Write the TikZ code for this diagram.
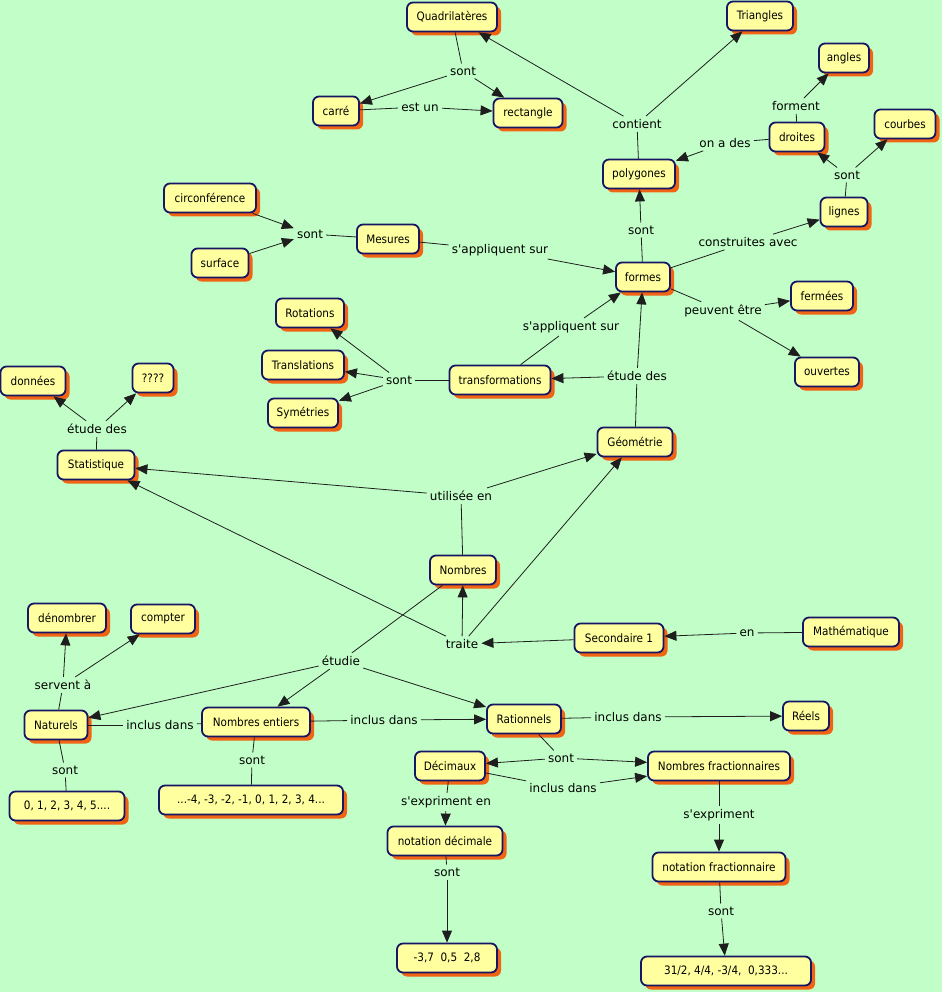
\documentclass[tikz,border=0pt]{standalone}
\usepackage{fontspec}
\usetikzlibrary{arrows.meta,shadows}
\newfontfamily\cmapfont{DejaVu Sans}
\newfontfamily\cmapnodefont{DejaVu Sans Condensed}
\definecolor{bg}{RGB}{194,255,200}
\definecolor{cfill}{RGB}{255,255,160}
\definecolor{cborder}{RGB}{22,22,100}
\definecolor{cshadow}{RGB}{240,100,20}
\definecolor{lnk}{RGB}{30,30,30}
\begin{document}
\begin{tikzpicture}[x=1pt,y=-1pt,
  concept/.style={draw=cborder, line width=1.8pt, rounded corners=6pt, fill=cfill,
    font=\cmapnodefont\fontsize{11.6}{13}\selectfont, inner xsep=6pt, inner ysep=0pt,
    minimum height=29pt,
    drop shadow={shadow xshift=4pt, shadow yshift=-4pt, fill=cshadow, opacity=1}},
  link/.style={font=\cmapfont\fontsize{12}{14}\selectfont, inner sep=3pt, text=black},
  con/.style={draw=lnk, line width=0.8pt},
  arr/.style={con, -{Triangle[length=12pt,width=10pt]}}
]
\useasboundingbox (0,0) rectangle (942,992);
\fill[bg] (0,0) rectangle (942,992);

% concepts
\node[concept, minimum width=90pt] (quad) at (452,17) {Quadrilatères};
\node[concept, minimum width=66pt] (tri) at (760,16) {Triangles};
\node[concept, minimum width=50pt] (angl) at (844,58) {angles};
\node[concept, minimum width=61pt] (courb) at (905,124) {courbes};
\node[concept, minimum width=46pt] (carre) at (336,111) {carré};
\node[concept, minimum width=69pt] (rect) at (528,113) {rectangle};
\node[concept, minimum width=55pt] (droi) at (797,137) {droites};
\node[concept, minimum width=72pt] (poly) at (639,174) {polygones};
\node[concept, minimum width=47pt] (lign) at (844,212) {lignes};
\node[concept, minimum width=92pt] (circ) at (210,198) {circonférence};
\node[concept, minimum width=62pt] (mes) at (388,239) {Mesures};
\node[concept, minimum width=57pt] (surf) at (220,263) {surface};
\node[concept, minimum width=54pt] (form) at (643,277) {formes};
\node[concept, minimum width=62pt] (ferm) at (822,296) {fermées};
\node[concept, minimum width=68pt] (rot) at (310,313) {Rotations};
\node[concept, minimum width=82pt] (transl) at (303,365) {Translations};
\node[concept, minimum width=70pt] (sym) at (303,413) {Symétries};
\node[concept, minimum width=101pt] (transf) at (500,380) {transformations};
\node[concept, minimum width=64pt] (ouv) at (827,372) {ouvertes};
\node[concept, minimum width=65pt] (donn) at (33,381) {données};
\node[concept, minimum width=41pt] (quest) at (153,378) {????};
\node[concept, minimum width=77pt] (stat) at (96,465) {Statistique};
\node[concept, minimum width=75pt] (geo) at (635,442) {Géométrie};
\node[concept, minimum width=66pt] (nomb) at (463,570) {Nombres};
\node[concept, minimum width=78pt] (denom) at (67,618) {dénombrer};
\node[concept, minimum width=64pt] (compt) at (163,619) {compter};
\node[concept, minimum width=89pt] (sec) at (619,638) {Secondaire 1};
\node[concept, minimum width=96pt] (math) at (851,632) {Mathématique};
\node[concept, minimum width=63pt] (nat) at (56,725) {Naturels};
\node[concept, minimum width=108pt] (ent) at (256,722) {Nombres entiers};
\node[concept, minimum width=74pt] (rat) at (524,719) {Rationnels};
\node[concept, minimum width=46pt] (reel) at (806,716) {Réels};
\node[concept, minimum width=70pt] (dec) at (450,766) {Décimaux};
\node[concept, minimum width=142pt] (nfrac) at (719,766) {Nombres fractionnaires};
\node[concept, minimum width=115pt] (exnat) at (67,806) {0, 1, 2, 3, 4, 5....};
\node[concept, minimum width=184pt] (exent) at (251,800) {...-4, -3, -2, -1, 0, 1, 2, 3, 4...};
\node[concept, minimum width=115pt] (ndec) at (445,841) {notation décimale};
\node[concept, minimum width=133pt] (nfr) at (719,867) {notation fractionnaire};
\node[concept, minimum width=100pt] (exdec) at (447,958) {-3,7~~0,5~~2,8\hspace{10pt}};
\node[concept, minimum width=170pt] (exfr) at (726,971) {31/2, 4/4, -3/4,~~0,333...\hspace{14pt}};

% linking phrases
\node[link] (l1) at (463,71) {sont};
\node[link] (l2) at (420,107) {est un};
\node[link] (l3) at (637,124) {contient};
\node[link] (l4) at (796,106) {forment};
\node[link] (l5) at (725,143) {on a des};
\node[link] (l6) at (847,175) {sont};
\node[link] (l7) at (641,230) {sont};
\node[link] (l8) at (748,242) {construites avec};
\node[link] (l9) at (310,234) {sont};
\node[link] (l10) at (500,250) {s'appliquent sur};
\node[link] (l11) at (723,311) {peuvent être};
\node[link] (l12) at (571,327) {s'appliquent sur};
\node[link] (l13) at (637,376) {étude des};
\node[link] (l14) at (399,380) {sont};
\node[link] (l15) at (97,429) {étude des};
\node[link] (l16) at (461,496) {utilisée en};
\node[link] (l17) at (462,644) {traite};
\node[link] (l18) at (747,633) {en};
\node[link] (l19) at (341,661) {étudie};
\node[link] (l20) at (63,685) {servent à};
\node[link] (l21) at (160,725) {inclus dans};
\node[link] (l22) at (384,720) {inclus dans};
\node[link] (l23) at (628,717) {inclus dans};
\node[link] (l24) at (65,770) {sont};
\node[link] (l25) at (252,760) {sont};
\node[link] (l26) at (561,758) {sont};
\node[link] (l27) at (563,788) {inclus dans};
\node[link] (l28) at (446,802) {s'expriment en};
\node[link] (l29) at (719,815) {s'expriment};
\node[link] (l30) at (447,872) {sont};
\node[link] (l31) at (721,911) {sont};

% connectors
\draw[con] (quad) -- (l1); \draw[arr] (l1) -- (carre); \draw[arr] (l1) -- (rect);
\draw[con] (carre) -- (l2); \draw[arr] (l2) -- (rect);
\draw[con] (poly) -- (l3); \draw[arr] (l3) -- (quad); \draw[arr] (l3) -- (tri);
\draw[con] (droi) -- (l4); \draw[arr] (l4) -- (angl);
\draw[con] (droi) -- (l5); \draw[arr] (l5) -- (poly);
\draw[con] (lign) -- (l6); \draw[arr] (l6) -- (droi); \draw[arr] (l6) -- (courb);
\draw[con] (form) -- (l7); \draw[arr] (l7) -- (poly);
\draw[con] (form) -- (l8); \draw[arr] (l8) -- (lign);
\draw[con] (mes) -- (l9); \draw[arr] (circ) -- (l9); \draw[arr] (surf) -- (l9);
\draw[con] (mes) -- (l10); \draw[arr] (l10) -- (form);
\draw[con] (form) -- (l11); \draw[arr] (l11) -- (ferm); \draw[arr] (l11) -- (ouv);
\draw[con] (transf) -- (l12); \draw[arr] (l12) -- (form);
\draw[con] (geo) -- (l13); \draw[arr] (l13) -- (form); \draw[arr] (l13) -- (transf);
\draw[con] (transf) -- (l14); \draw[arr] (l14) -- (rot); \draw[arr] (l14) -- (transl); \draw[arr] (l14) -- (sym);
\draw[con] (stat) -- (l15); \draw[arr] (l15) -- (donn); \draw[arr] (l15) -- (quest);
\draw[con] (nomb) -- (l16); \draw[arr] (l16) -- (stat); \draw[arr] (l16) -- (geo);
\draw[arr] (sec) -- (l17); \draw[arr] (l17) -- (nomb); \draw[arr] (l17) -- (geo); \draw[arr] (l17) -- (stat);
\draw[con] (math) -- (l18); \draw[arr] (l18) -- (sec);
\draw[con] (nomb) -- (l19); \draw[arr] (l19) -- (nat); \draw[arr] (l19) -- (ent); \draw[arr] (l19) -- (rat);
\draw[con] (nat) -- (l20); \draw[arr] (l20) -- (denom); \draw[arr] (l20) -- (compt);
\draw[con] (nat) -- (l21); \draw[con] (l21) -- (ent);
\draw[con] (ent) -- (l22); \draw[arr] (l22) -- (rat);
\draw[con] (rat) -- (l23); \draw[arr] (l23) -- (reel);
\draw[con] (nat) -- (l24); \draw[con] (l24) -- (exnat);
\draw[con] (ent) -- (l25); \draw[con] (l25) -- (exent);
\draw[con] (rat) -- (l26); \draw[arr] (l26) -- (dec); \draw[arr] (l26) -- (nfrac);
\draw[con] (dec) -- (l27); \draw[arr] (l27) -- (nfrac);
\draw[con] (dec) -- (l28); \draw[arr] (l28) -- (ndec);
\draw[con] (nfrac) -- (l29); \draw[arr] (l29) -- (nfr);
\draw[con] (ndec) -- (l30); \draw[arr] (l30) -- (exdec);
\draw[con] (nfr) -- (l31); \draw[arr] (l31) -- (exfr);
\end{tikzpicture}
\end{document}
